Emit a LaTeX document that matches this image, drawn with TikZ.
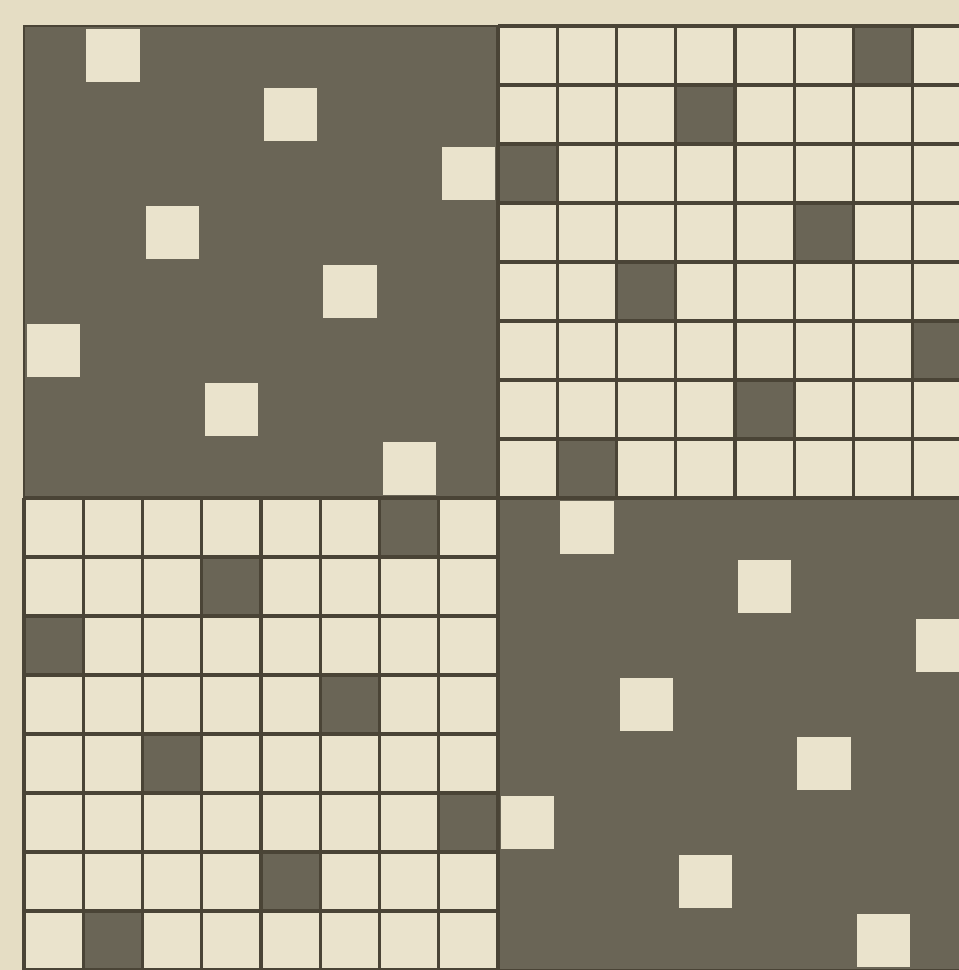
\documentclass[tikz,border=0pt]{standalone}
\definecolor{paper}{RGB}{229,221,196}
\definecolor{cellc}{RGB}{234,227,204}
\definecolor{darkc}{RGB}{106,101,86}
\definecolor{linec}{RGB}{74,68,54}
\tikzset{
  darkquad/.style={fill=darkc},
  lightquad/.style={fill=cellc},
  holecell/.style={fill=cellc},
  filledcell/.style={fill=darkc},
  gridline/.style={draw=linec, line width=1.9pt, line cap=square}
}
\begin{document}
\begin{tikzpicture}[x=0.02cm,y=-0.02cm]
\useasboundingbox (0,0) rectangle (959,970);
\clip (0,0) rectangle (959,970);
\fill[paper] (0,0) rectangle (959,970);
\def\cw{59.25}\def\ch{59}\def\ox{24}\def\oy{26}
% dark quadrants
\fill[darkquad] (\ox,\oy) rectangle ++({8*\cw},{8*\ch});
\fill[darkquad] ({\ox+8*\cw},{\oy+8*\ch}) rectangle ++({8*\cw},{8*\ch});
% light quadrants
\fill[lightquad] ({\ox+8*\cw},\oy) rectangle ++({8*\cw},{8*\ch});
\fill[lightquad] (\ox,{\oy+8*\ch}) rectangle ++({8*\cw},{8*\ch});
% light holes in dark quadrants
\foreach \r/\c in {0/1,1/4,2/7,3/2,4/5,5/0,6/3,7/6}{
  \fill[holecell] ({\ox+\c*\cw+3},{\oy+\r*\ch+3}) rectangle ++({\cw-6},{\ch-6});
  \fill[holecell] ({\ox+(\c+8)*\cw+3},{\oy+(\r+8)*\ch+3}) rectangle ++({\cw-6},{\ch-6});
}
% dark cells in light quadrants
\foreach \r/\c in {0/6,1/3,2/0,3/5,4/2,5/7,6/4,7/1}{
  \fill[filledcell] ({\ox+(\c+8)*\cw},{\oy+\r*\ch}) rectangle ++(\cw,\ch);
  \fill[filledcell] ({\ox+\c*\cw},{\oy+(\r+8)*\ch}) rectangle ++(\cw,\ch);
}
% grid lines in light quadrants
\foreach \i in {0,...,8}{
  \draw[gridline] ({\ox+(\i+8)*\cw},\oy) -- ++(0,{8*\ch});
  \draw[gridline] ({\ox+8*\cw},{\oy+\i*\ch}) -- ++({8*\cw},0);
  \draw[gridline] ({\ox+\i*\cw},{\oy+8*\ch}) -- ++(0,{8*\ch});
  \draw[gridline] (\ox,{\oy+(\i+8)*\ch}) -- ++({8*\cw},0);
}
% outer border
\draw[draw=linec, line width=1.2pt] (\ox,\oy) rectangle ++({16*\cw},{16*\ch});
\end{tikzpicture}
\end{document}
